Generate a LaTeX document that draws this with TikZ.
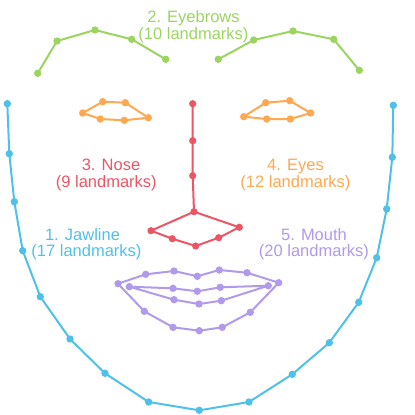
\documentclass[tikz,border=0pt]{standalone}
\usepackage{fontspec}
\setmainfont{Liberation Sans}
\definecolor{jawc}{RGB}{79,193,233}
\definecolor{browc}{RGB}{155,213,96}
\definecolor{nosec}{RGB}{237,85,101}
\definecolor{eyec}{RGB}{255,168,80}
\definecolor{mouthc}{RGB}{177,153,236}
\begin{document}
\begin{tikzpicture}[x=1pt,y=-1pt,
  seg/.style={line width=2pt,line join=round,line cap=round},
  lbl/.style={align=center,inner sep=0pt,font=\fontsize{16.5}{16.8}\selectfont}]
\useasboundingbox (0,0) rectangle (415,415);
% Jawline
\foreach \x/\y [count=\i] in {7.3/103.7,9.3/153.7,14.3/201.7,22.7/250.7,40.3/296.7,70/339,105/373.3,148.7/402,199.3/410.3,249/402,292.3/374.3,329.3/342.7,358.7/302.3,376.7/257.7,386.7/209,392.3/157.3,393.3/105.3}
  \coordinate (j\i) at (\x,\y);
% Eyebrows
\foreach \x/\y [count=\i] in {37.7/73.3,57/41,95/30,131.7/39.3,165.7/59.3,218.3/59.3,253.7/40,293/31,333.7/39.3,359.3/70.3}
  \coordinate (b\i) at (\x,\y);
% Eyes
\foreach \x/\y [count=\i] in {82.7/113,102.7/101.7,125.3/102.7,148.3/117.7,124.3/120.3,100.3/119,243.7/116.7,265.7/102.7,289.7/100.7,310.7/113,290.3/119,266.7/119}
  \coordinate (e\i) at (\x,\y);
% Nose
\foreach \x/\y [count=\i] in {192.7/103.7,192.7/140.7,192.7/175.7,194/211.7,151/230.7,172.3/238.7,195.7/246,218.7/237.7,239.3/227.3}
  \coordinate (n\i) at (\x,\y);
% Mouth
\foreach \x/\y [count=\i] in {118/283.7,145.7/274.3,174/271,197.3/276.3,219.3/270,247/272.7,278.7/282.7,250.3/312.3,222.3/327.3,199.3/330.7,173/327.3,144.3/311.3,129.3/286.7,173/288.3,197.3/291.3,220.3/287.3,268.3/285.7,221.3/300.7,199/304,174/299.7}
  \coordinate (m\i) at (\x,\y);

% connectors
\draw[seg,jawc] (j1) \foreach \i in {2,...,17} { -- (j\i) };
\draw[seg,browc] (b1) -- (b2) -- (b3) -- (b4) -- (b5);
\draw[seg,browc] (b6) -- (b7) -- (b8) -- (b9) -- (b10);
\draw[seg,eyec] (e1) -- (e2) -- (e3) -- (e4) -- (e5) -- (e6) -- cycle;
\draw[seg,eyec] (e7) -- (e8) -- (e9) -- (e10) -- (e11) -- (e12) -- cycle;
\draw[seg,nosec] (n1) -- (n2) -- (n3) -- (n4);
\draw[seg,nosec] (n4) -- (n5) -- (n6) -- (n7) -- (n8) -- (n9) -- cycle;
\draw[seg,mouthc] (m1) \foreach \i in {2,...,12} { -- (m\i) } -- cycle;
\draw[seg,mouthc] (m13) \foreach \i in {14,...,20} { -- (m\i) } -- cycle;

% landmarks
\foreach \i in {1,...,17} \fill[jawc] (j\i) circle (3.7);
\foreach \i in {1,...,10} \fill[browc] (b\i) circle (3.7);
\foreach \i in {1,...,12} \fill[eyec] (e\i) circle (3.7);
\foreach \i in {1,...,9} \fill[nosec] (n\i) circle (3.6);
\foreach \i in {1,...,20} \fill[mouthc] (m\i) circle (3.7);

% labels
\node[lbl,text=browc] (tbrow) at (193.5,27) {2. Eyebrows\\(10 landmarks)};
\node[lbl,text=nosec] (tnose) at (106.3,175.3) {\hspace*{9.4pt}3. Nose\\(9 landmarks)};
\node[lbl,text=eyec] (teye) at (295.5,175.3) {4. Eyes\\(12 landmarks)};
\node[lbl,text=jawc] (tjaw) at (86.5,244.3) {1. Jawline\hspace*{8pt}\\(17 landmarks)};
\node[lbl,text=mouthc] (tmouth) at (314,244.3) {5. Mouth\\(20 landmarks)};
\end{tikzpicture}
\end{document}
